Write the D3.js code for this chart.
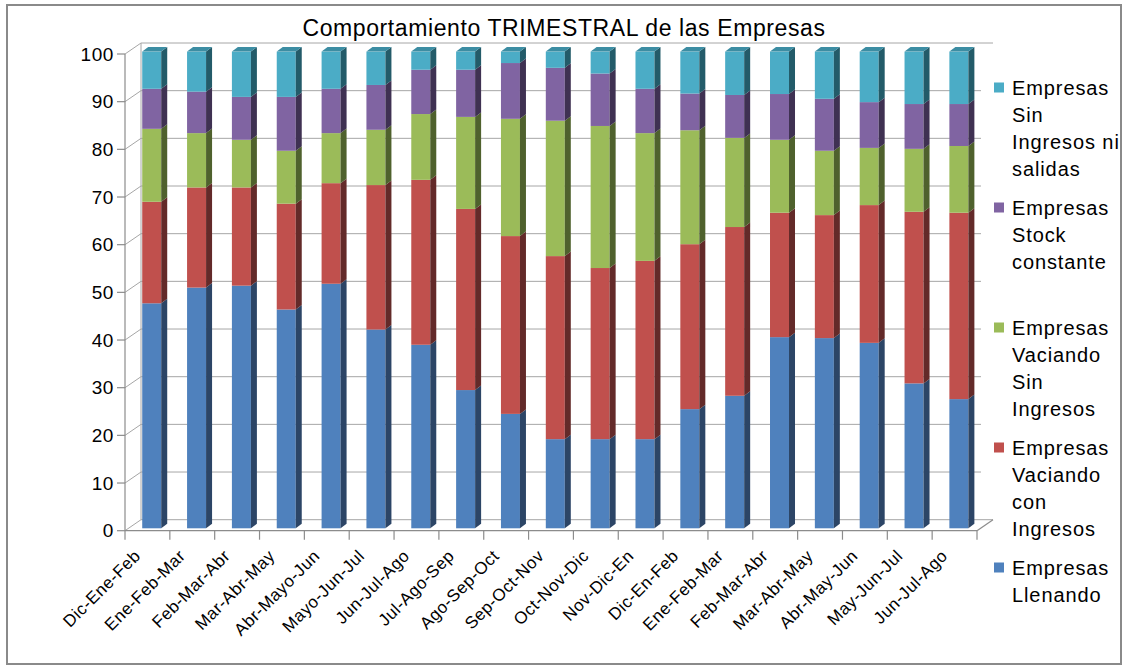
<!DOCTYPE html>
<html>
<head>
<meta charset="utf-8">
<script src="https://cdn.jsdelivr.net/npm/d3@7"></script>
<style>
  html, body { margin: 0; padding: 0; background: #fff; }
  svg { display: block; font-family: "Liberation Sans", Arial, sans-serif; }
</style>
</head>
<body>
<svg id="chart" width="1122" height="665"></svg>
<script>
const categories = ["Dic-Ene-Feb","Ene-Feb-Mar","Feb-Mar-Abr","Mar-Abr-May","Abr-Mayo-Jun","Mayo-Jun-Jul","Jun-Jul-Ago","Jul-Ago-Sep","Ago-Sep-Oct","Sep-Oct-Nov","Oct-Nov-Dic","Nov-Dic-En","Dic-En-Feb","Ene-Feb-Mar","Feb-Mar-Abr","Mar-Abr-May","Abr-May-Jun","May-Jun-Jul","Jun-Jul-Ago"];
const llenando        = [47.2,50.5,50.9,45.9,51.3,41.7,38.5,29.0,24.0,18.7,18.7,18.7,25.0,27.8,40.1,39.9,38.9,30.4,27.1];
const vaciandoCon     = [21.3,21.0,20.6,22.2,21.1,30.3,34.6,38.0,37.3,38.4,35.9,37.4,34.6,35.4,26.1,25.8,28.9,36.0,39.1];
const vaciandoSin     = [15.3,11.4,10.0,11.1,10.5,11.6,13.8,19.3,24.6,28.4,29.8,26.8,23.9,18.7,15.3,13.5,12.0,13.2,14.0];
const stockConstante  = [8.4,8.7,9.0,11.3,9.3,9.4,9.3,9.9,11.7,11.1,11.0,9.3,7.7,9.0,9.6,10.9,9.6,9.4,8.8];
const sinIngresos     = [7.8,8.4,9.5,9.5,7.8,7.0,3.8,3.8,2.4,3.4,4.6,7.8,8.8,9.1,8.9,9.9,10.6,11.0,11.0];
const yTicks = [0,10,20,30,40,50,60,70,80,90,100];
const title = "Comportamiento TRIMESTRAL de las Empresas";

const seriesDefs = [
  {key:"llenando", label:["Empresas","Llenando"], values: llenando, front:"#4F81BD", side:"#2C4566"},
  {key:"vacCon", label:["Empresas","Vaciando","con","Ingresos"], values: vaciandoCon, front:"#C0504D", side:"#632A29"},
  {key:"vacSin", label:["Empresas","Vaciando","Sin","Ingresos"], values: vaciandoSin, front:"#9BBB59", side:"#4F612D"},
  {key:"stock", label:["Empresas","Stock","constante"], values: stockConstante, front:"#8064A2", side:"#3F3152"},
  {key:"sin", label:["Empresas","Sin","Ingresos ni","salidas"], values: sinIngresos, front:"#4BACC6", side:"#235B69", top:"#3C8DA3"}
];

const svg = d3.select("#chart");

// outer border
svg.append("rect").attr("x",7).attr("y",5).attr("width",1114).attr("height",659)
  .attr("fill","#fff").attr("stroke","#8a8a8a").attr("stroke-width",2);

// title
svg.append("text").attr("x",564).attr("y",36).attr("text-anchor","middle")
  .attr("font-size",23).attr("letter-spacing",0.6).attr("fill","#000").text(title);

const x0 = 125, x1 = 977;
const wallDx = 16, wallDy = -11;
const x = d3.scaleBand().domain(d3.range(categories.length)).range([x0, x1]).paddingInner(0).paddingOuter(0);
const y = d3.scaleLinear().domain([0,100]).range([530.7, 54]);

const grid = svg.append("g").attr("stroke","#a6a6a6").attr("stroke-width",1).attr("fill","none");
// back wall gridlines
yTicks.forEach(t => {
  const yy = y(t) + wallDy;
  const xe = (t === 0 || t === 100) ? x1 + wallDx : x1 + 4;
  grid.append("line").attr("x1", x0 + wallDx).attr("x2", xe).attr("y1", yy).attr("y2", yy);
  // left wall diagonal
  grid.append("line").attr("x1", x0).attr("y1", y(t)).attr("x2", x0 + wallDx).attr("y2", yy);
});
// back wall left edge
grid.append("line").attr("x1", x0 + wallDx).attr("x2", x0 + wallDx).attr("y1", y(0)+wallDy).attr("y2", y(100)+wallDy);

// floor
const axisG = svg.append("g").attr("stroke","#8c8c8c").attr("stroke-width",1.2).attr("fill","none");
axisG.append("line").attr("x1", x0).attr("x2", x1).attr("y1", y(0)).attr("y2", y(0));
axisG.append("line").attr("x1", x1).attr("y1", y(0)).attr("x2", x1 + wallDx).attr("y2", y(0) + wallDy);
// vertical axis
axisG.append("line").attr("x1", x0).attr("x2", x0).attr("y1", y(0)).attr("y2", y(100));
yTicks.forEach(t => {
  axisG.append("line").attr("x1", x0 - 8).attr("x2", x0).attr("y1", y(t)).attr("y2", y(t));
});
// category ticks
d3.range(categories.length + 1).forEach(i => {
  const xx = x0 + i * x.bandwidth();
  axisG.append("line").attr("x1", xx).attr("x2", xx).attr("y1", y(0)).attr("y2", y(0) + 9);
});

// y labels
svg.append("g").selectAll("text").data(yTicks).join("text")
  .attr("x", 114).attr("y", d => y(d)).attr("dy","0.35em").attr("text-anchor","end")
  .attr("font-size",19).attr("letter-spacing",0.6).attr("fill","#000").text(d => d);

// x labels
svg.append("g").selectAll("text").data(categories).join("text")
  .attr("transform", (d,i) => `translate(${x(i) + x.bandwidth()/2 - 6},${557}) rotate(-45)`)
  .attr("text-anchor","end").attr("font-size",17).attr("letter-spacing",0.5).attr("fill","#000").text(d => d);

// bars
const barW = 19, bDx = 6, bDy = -4.5, offX = 4.3, offY = -2.4;
const barsG = svg.append("g");
categories.forEach((c, i) => {
  const bx = x(i) + x.bandwidth()/2 - barW/2 + offX;
  let cum = 0;
  seriesDefs.forEach((s, si) => {
    const v = s.values[i];
    const yb = y(cum) + offY, yt = y(cum + v) + offY;
    cum += v;
    barsG.append("rect").attr("x", bx).attr("y", yt).attr("width", barW).attr("height", yb - yt).attr("fill", s.front);
    barsG.append("polygon").attr("points", [[bx+barW,yb],[bx+barW+bDx,yb+bDy],[bx+barW+bDx,yt+bDy],[bx+barW,yt]].join(" "))
      .attr("fill", s.side);
    if (si === seriesDefs.length - 1) {
      barsG.append("polygon").attr("points", [[bx,yt],[bx+bDx,yt+bDy],[bx+barW+bDx,yt+bDy],[bx+barW,yt]].join(" "))
        .attr("fill", s.top);
    }
  });
});

// legend (top to bottom: reverse order)
const legendOrder = seriesDefs.slice().reverse();
const legG = svg.append("g");
legendOrder.forEach((s, k) => {
  const base = 95 + k * 120;
  legG.append("rect").attr("x", 994).attr("y", base - 12.5).attr("width", 10).attr("height", 10).attr("fill", s.front);
  s.label.forEach((ln, j) => {
    legG.append("text").attr("x", 1012).attr("y", base + j * 27).attr("font-size", 20)
      .attr("letter-spacing", 0.9).attr("fill", "#000").text(ln);
  });
});
</script>
</body>
</html>
